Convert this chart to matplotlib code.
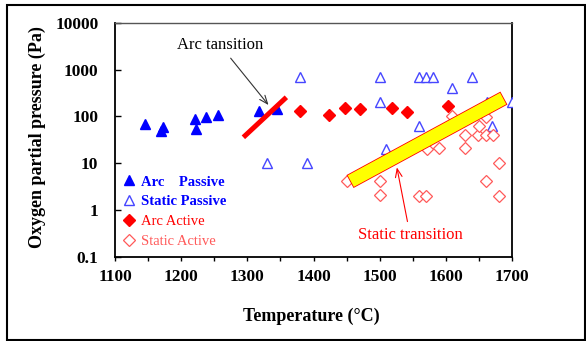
import matplotlib
matplotlib.use("Agg")
import matplotlib.pyplot as plt
import matplotlib.patheffects as pe
from matplotlib.patches import Rectangle
from matplotlib.ticker import MultipleLocator, FixedLocator, NullLocator

plt.rcParams['font.family'] = ['Liberation Serif', 'DejaVu Serif']

# ---- data ----
arc_passive_T = [1146, 1169, 1173, 1221, 1222, 1237, 1256, 1317, 1345]
arc_passive_p = [68, 48, 58, 86, 53, 98, 107, 130, 145]

static_passive_T = [1380, 1501, 1559, 1570, 1580, 1640, 1610, 1501, 1700, 1662, 1560, 1670, 1510, 1390, 1329]
static_passive_p = [700, 700, 700, 700, 700, 700, 408, 205, 199, 205, 62, 62, 20, 10, 10]

arc_active_T = [1380, 1423, 1448, 1470, 1519, 1542, 1603]
arc_active_p = [130, 107, 153, 141, 153, 122, 166]

static_active_T = [1450, 1501, 1501, 1559, 1570, 1571, 1590, 1629, 1629, 1649, 1660, 1671,
                   1650, 1609, 1661, 1680, 1660, 1680]
static_active_p = [4.2, 4.2, 2.1, 2.0, 2.0, 20, 21, 40, 21, 40, 40, 40,
                   62, 100, 95, 10, 4.2, 2.0]

arc_transition_T = [1294, 1359]
arc_transition_p = [35.6, 255]

static_transition_T = [1465, 1678]
static_transition_p = [4.8, 206]

x_ticks = [1100, 1200, 1300, 1400, 1500, 1600, 1700]
y_ticks = [0.1, 1, 10, 100, 1000, 10000]
y_ticklabels = ['0.1', '1', '10', '100', '1000', '10000']

fig = plt.figure(figsize=(5.86, 3.41), dpi=100)
ax = fig.add_axes([115/586, 1-256.7/341, (512-115)/586, (256.7-22.7)/341])

blue = '#0000FF'
lblue = '#4646FF'
red = '#FF0000'
lred = '#FF5A5A'

ax.plot(arc_passive_T, arc_passive_p, ls='none', marker='^', ms=7.8, color=blue,
        label='Arc    Passive', zorder=3)
ax.plot(static_passive_T, static_passive_p, ls='none', marker='^', ms=7.8, mfc='white',
        mec=lblue, mew=1.0, label='Static Passive', zorder=3)
ax.plot(arc_active_T, arc_active_p, ls='none', marker='D', ms=6, color=red,
        label='Arc Active', zorder=3)
ax.plot(static_active_T, static_active_p, ls='none', marker='D', ms=6, mfc='white',
        mec=lred, mew=0.9, label='Static Active', zorder=3)

ax.plot(arc_transition_T, arc_transition_p, color=red, lw=3.6, solid_capstyle='butt', zorder=4)
ax.plot(static_transition_T, static_transition_p, color='#FFFF00', lw=9.4,
        solid_capstyle='projecting', zorder=5,
        path_effects=[pe.Stroke(linewidth=10.6, foreground=red, capstyle='projecting'), pe.Normal()])

ax.annotate('Arc tansition', xy=(1332, 174), xytext=(1259, 3300), ha='center', va='center',
            fontsize=12, color='black',
            arrowprops=dict(arrowstyle='->,head_length=0.5,head_width=0.2', color='#333333', lw=0.8,
                            shrinkA=2, shrinkB=0), zorder=6)
ax.annotate('Static transition', xy=(1526, 8.1), xytext=(1546, 0.29), ha='center', va='center',
            fontsize=12, color=red,
            arrowprops=dict(arrowstyle='->,head_length=0.5,head_width=0.2', color=red, lw=0.8,
                            shrinkA=2, shrinkB=0), zorder=6)

ax.set_xlim(1100, 1700)
ax.set_yscale('log')
ax.set_ylim(0.1, 10000)
ax.xaxis.set_major_locator(FixedLocator(x_ticks))
ax.xaxis.set_minor_locator(MultipleLocator(50))
ax.yaxis.set_major_locator(FixedLocator(y_ticks))
ax.yaxis.set_minor_locator(NullLocator())
ax.set_yticklabels(y_ticklabels)

ax.tick_params(axis='x', which='both', direction='out', length=3, width=1.0, pad=6,
               labelsize=12.5)
ax.tick_params(axis='y', which='both', direction='in', length=4, width=1.0, pad=12,
               labelsize=12.5)
for lab in ax.get_xticklabels() + ax.get_yticklabels():
    lab.set_fontweight('bold')

for s in ['left', 'bottom', 'right']:
    ax.spines[s].set_linewidth(1.3)
    ax.spines[s].set_color('black')
ax.spines['top'].set_linewidth(1.0)
ax.spines['top'].set_color('#555555')

fig.text(37/586, 1-137/341, 'Oxygen partial pressure (Pa)', rotation=90, ha='center', va='center',
         fontsize=13, fontweight='bold')
fig.text(311.5/586, 1-316/341, 'Temperature (°C)', ha='center', va='center',
         fontsize=13, fontweight='bold')

leg = ax.legend(loc='lower left', bbox_to_anchor=(-0.012, -0.006), frameon=False, fontsize=10.5,
                handletextpad=0.2, labelspacing=0.45, handlelength=1.2, borderaxespad=0.3)
cols = [blue, blue, red, lred]
weights = ['bold', 'bold', 'normal', 'normal']
for t, c, w in zip(leg.get_texts(), cols, weights):
    t.set_color(c)
    t.set_fontweight(w)

fig.patches.append(Rectangle((6.5/586, 1-339.5/341), (585-6.5)/586, (339.5-5)/341,
                             transform=fig.transFigure, fill=False, edgecolor='black', lw=1.5))

fig.savefig('out.png', dpi=100)
